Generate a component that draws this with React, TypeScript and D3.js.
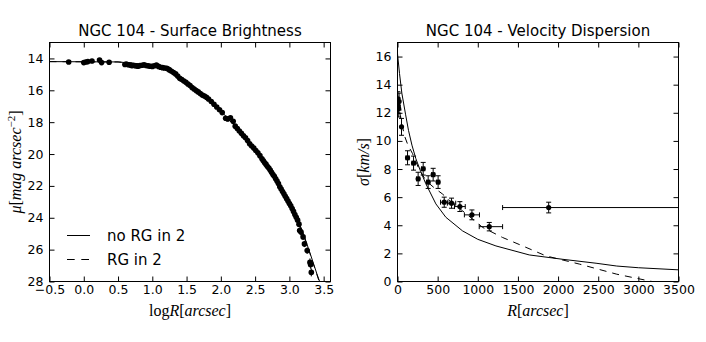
import React from 'react'
import { axisBottom, axisLeft, axisTop, axisRight, scaleLinear, select, line, format, range } from 'd3'

// surface brightness profile
const sbLogR = [
  -0.22, 0.0, 0.03, 0.06, 0.12, 0.23, 0.26, 0.37,
  0.6, 0.62, 0.65, 0.68, 0.7, 0.73, 0.76, 0.79, 0.82, 0.85, 0.88, 0.91, 0.94, 0.97,
  1.0, 1.03, 1.06, 1.09, 1.12, 1.15, 1.18, 1.21, 1.23, 1.25, 1.28, 1.31, 1.34, 1.37,
  1.4, 1.43, 1.46, 1.49, 1.52, 1.55, 1.58, 1.61, 1.64, 1.67, 1.7, 1.73, 1.76, 1.79,
  1.82, 1.86, 1.9, 1.94, 1.98, 2.02, 2.07, 2.1, 2.14, 2.18, 2.21, 2.24, 2.27, 2.3,
  2.33, 2.36, 2.39, 2.42, 2.45, 2.48, 2.51, 2.54, 2.57, 2.6, 2.62, 2.64, 2.66, 2.68,
  2.7, 2.72, 2.74, 2.76, 2.78, 2.8, 2.82, 2.84, 2.86, 2.88, 2.9, 2.92, 2.94, 2.96,
  2.98, 3.0, 3.02, 3.04, 3.06, 3.08, 3.1, 3.12, 3.14, 3.15, 3.17, 3.2, 3.22, 3.26,
  3.3, 3.31, 3.32,
]
const sbMu = [
  14.22, 14.26, 14.22, 14.2, 14.16, 14.1, 14.26, 14.24,
  14.38, 14.35, 14.4, 14.42, 14.45, 14.44, 14.47, 14.49, 14.45, 14.43, 14.4, 14.44, 14.47, 14.49,
  14.5, 14.46, 14.42, 14.5, 14.55, 14.58, 14.6, 14.62, 14.66, 14.72, 14.8, 14.88, 14.97, 15.1,
  15.25, 15.32, 15.42, 15.5, 15.6, 15.7, 15.82, 15.92, 16.02, 16.1, 16.2, 16.3, 16.36, 16.44,
  16.55, 16.7, 16.88, 17.05, 17.22, 17.4, 17.75, 17.8, 17.72, 17.95, 18.25, 18.4, 18.55, 18.7,
  18.85, 18.98, 19.15, 19.35, 19.5, 19.62, 19.78, 19.92, 20.1, 20.3, 20.42, 20.55, 20.65, 20.78,
  20.88, 21.0, 21.15, 21.28, 21.4, 21.55, 21.7, 21.85, 22.05, 22.2, 22.35, 22.5, 22.65, 22.8,
  22.95, 23.1, 23.25, 23.42, 23.6, 23.8, 23.97, 24.15, 24.4, 24.8, 24.9, 25.2, 25.64, 26.06,
  26.8, 26.95, 27.43,
]
const sbErr = [
  0.05, 0.05, 0.05, 0.05, 0.05, 0.05, 0.05, 0.05,
  0.06, 0.06, 0.06, 0.06, 0.06, 0.06, 0.06, 0.06, 0.06, 0.06, 0.06, 0.06, 0.06, 0.06,
  0.08, 0.08, 0.08, 0.08, 0.08, 0.08, 0.08, 0.08, 0.08, 0.08, 0.08, 0.08, 0.08, 0.08,
  0.1, 0.1, 0.1, 0.1, 0.1, 0.1, 0.1, 0.1, 0.1, 0.1, 0.1, 0.1, 0.1, 0.1,
  0.1, 0.1, 0.1, 0.1, 0.1, 0.12, 0.15, 0.15, 0.12, 0.12, 0.12, 0.12, 0.12, 0.12,
  0.12, 0.12, 0.12, 0.15, 0.15, 0.15, 0.15, 0.15, 0.15, 0.15, 0.15, 0.15, 0.15, 0.15,
  0.2, 0.2, 0.2, 0.2, 0.2, 0.2, 0.2, 0.2, 0.2, 0.2, 0.2, 0.2, 0.2, 0.2,
  0.2, 0.2, 0.2, 0.2, 0.2, 0.2, 0.2, 0.2, 0.2, 0.2, 0.2, 0.2, 0.2, 0.2,
  0.25, 0.25, 0.25,
]
// model curves
const sbModelLogR = [-0.5, 0.5, 0.8, 1.0, 1.2, 1.4, 1.6, 1.8, 2.0, 2.2, 2.4, 2.6, 2.8, 3.0, 3.1, 3.2, 3.3, 3.4, 3.45]
const sbNoRgMu = [14.2, 14.22, 14.33, 14.45, 14.65, 15.2, 15.88, 16.5, 17.3, 18.2, 19.2, 20.25, 21.5, 23.0, 23.9, 24.95, 26.2, 27.5, 28.1]
const sbRgMu = [14.2, 14.22, 14.34, 14.47, 14.68, 15.24, 15.9, 16.52, 17.32, 18.22, 19.22, 20.28, 21.52, 23.02, 23.92, 24.98, 26.25, 27.55, 28.2]

// velocity dispersion
const vdR = [5, 10, 15, 20, 50, 125, 200, 257, 320, 382, 444, 506, 582, 673, 777, 927, 1143, 1883]
const vdSigma = [13.0, 12.5, 12.3, 12.8, 11.0, 8.8, 8.42, 7.3, 8.02, 7.07, 7.6, 7.07, 5.64, 5.57, 5.33, 4.74, 3.9, 5.26]
const vdSigmaErr = [0.5, 0.55, 0.6, 0.6, 0.6, 0.5, 0.5, 0.47, 0.45, 0.45, 0.45, 0.45, 0.36, 0.36, 0.35, 0.35, 0.3, 0.38]
const vdRLo = [5, 10, 15, 20, 50, 105, 180, 237, 300, 362, 424, 486, 536, 621, 710, 833, 1018, 1309]
const vdRHi = [5, 10, 15, 20, 50, 145, 220, 277, 340, 402, 464, 526, 628, 725, 844, 1021, 1309, 3700]
const vdNoRgR = [0, 25, 54, 100, 137, 180, 228, 290, 353, 478, 602, 810, 1000, 1226, 1641, 2057, 2473, 2731, 3000, 3500]
const vdNoRgSigma = [16.2, 14.8, 13.4, 11.9, 10.75, 9.7, 8.75, 7.8, 6.95, 5.52, 4.57, 3.6, 3.0, 2.53, 1.89, 1.58, 1.3, 1.1, 0.98, 0.83]
const vdRgR = [0, 50, 91, 130, 187, 260, 353, 450, 561, 680, 810, 1060, 1309, 1559, 1850, 2265, 2731, 3170, 3300]
const vdRgSigma = [13.0, 11.3, 10.3, 9.7, 9.1, 8.1, 7.18, 6.7, 6.22, 5.6, 5.03, 3.85, 3.13, 2.53, 1.82, 1.24, 0.52, 0.0, -0.2]

// ticks
const sbXTicks = range(-0.5, 3.51, 0.5)
const sbYTicks = [14, 16, 18, 20, 22, 24, 26, 28]
const vdXTicks = [0, 500, 1000, 1500, 2000, 2500, 3000, 3500]
const vdYTicks = [0, 2, 4, 6, 8, 10, 12, 14, 16]

const legendLabels = ['no RG in 2', 'RG in 2']

const sans = 'DejaVu Sans, sans-serif'
const serif = 'Liberation Serif, DejaVu Serif, serif'

const styleAxis = g => {
  g.select('.domain').remove()
  g.attr('font-family', sans).attr('font-size', 12.5)
  g.selectAll('line').attr('stroke', '#000')
  g.selectAll('text').attr('fill', '#000')
}

const Frame = ({ x, y, xTicks, yTicks, xFmt, yFmt }) => {
  const [l, r] = x.range()
  const top = Math.min(...y.range())
  const bot = Math.max(...y.range())
  const bottomRef = node => {
    if (!node) return
    select(node).call(axisBottom(x).tickValues(xTicks).tickFormat(xFmt).tickSizeInner(-5).tickSizeOuter(0).tickPadding(4)).call(styleAxis)
  }
  const topRef = node => {
    if (!node) return
    select(node).call(axisTop(x).tickValues(xTicks).tickFormat(() => '').tickSizeInner(-5).tickSizeOuter(0)).call(styleAxis)
  }
  const leftRef = node => {
    if (!node) return
    select(node).call(axisLeft(y).tickValues(yTicks).tickFormat(yFmt).tickSizeInner(-5).tickSizeOuter(0).tickPadding(6)).call(styleAxis)
  }
  const rightRef = node => {
    if (!node) return
    select(node).call(axisRight(y).tickValues(yTicks).tickFormat(() => '').tickSizeInner(-5).tickSizeOuter(0)).call(styleAxis)
  }
  return (
    <g>
      <g transform={`translate(0,${bot})`} ref={bottomRef} />
      <g transform={`translate(0,${top})`} ref={topRef} />
      <g transform={`translate(${l},0)`} ref={leftRef} />
      <g transform={`translate(${r},0)`} ref={rightRef} />
      <rect x={l} y={top} width={r - l} height={bot - top} fill="none" stroke="#000" strokeWidth={1} />
    </g>
  )
}

export default function App() {
  const sbX = scaleLinear().domain([-0.5, 3.6]).range([49.5, 330.5])
  const sbY = scaleLinear().domain([13, 28]).range([42.5, 281.5])
  const vdX = scaleLinear().domain([0, 3500]).range([397.5, 678.5])
  const vdY = scaleLinear().domain([0, 17]).range([281.5, 42.5])

  const sbLine = line().x(d => sbX(d[0])).y(d => sbY(d[1]))
  const vdLine = line().x(d => vdX(d[0])).y(d => vdY(d[1]))

  const cap = 2.5

  return (
    <svg width={706} height={342} style={{ position: 'absolute', left: 0, top: 0, background: '#fff' }}>
      <defs>
        <clipPath id="clipSb">
          <rect x={49.5} y={42.5} width={281} height={239} />
        </clipPath>
        <clipPath id="clipVd">
          <rect x={397.5} y={42.5} width={281} height={239} />
        </clipPath>
      </defs>

      {/* left: surface brightness */}
      <text x={190} y={36} textAnchor="middle" fontFamily={sans} fontSize={15}>NGC 104 - Surface Brightness</text>
      <g clipPath="url(#clipSb)">
        <path d={sbLine(sbModelLogR.map((v, i) => [v, sbRgMu[i]]))} fill="none" stroke="#000" strokeWidth={1} strokeDasharray="7,6" />
        <path d={sbLine(sbModelLogR.map((v, i) => [v, sbNoRgMu[i]]))} fill="none" stroke="#000" strokeWidth={1} />
        {sbLogR.map((v, i) => (
          <g key={i}>
            <line x1={sbX(v)} x2={sbX(v)} y1={sbY(sbMu[i] - sbErr[i])} y2={sbY(sbMu[i] + sbErr[i])} stroke="#000" />
            <circle cx={sbX(v)} cy={sbY(sbMu[i])} r={2.8} fill="#000" />
          </g>
        ))}
      </g>
      <Frame x={sbX} y={sbY} xTicks={sbXTicks} yTicks={sbYTicks} xFmt={format('.1f')} yFmt={format('d')} />
      <text x={190} y={316} textAnchor="middle" fontFamily={serif} fontSize={16}>
        <tspan>log</tspan><tspan fontStyle="italic">R</tspan><tspan>[</tspan><tspan fontStyle="italic">arcsec</tspan><tspan>]</tspan>
      </text>
      <text transform="translate(21,162) rotate(-90)" textAnchor="middle" fontFamily={serif} fontSize={16}>
        <tspan fontStyle="italic">μ</tspan><tspan>[</tspan><tspan fontStyle="italic">mag arcsec</tspan>
        <tspan dy={-6} fontSize={11}>−2</tspan><tspan dy={6}>]</tspan>
      </text>
      {/* legend */}
      <line x1={67} x2={90} y1={235.5} y2={235.5} stroke="#000" />
      <line x1={67} x2={90} y1={259.5} y2={259.5} stroke="#000" strokeDasharray="7.7,6.6" />
      <text x={107} y={241} fontFamily={sans} fontSize={15}>{legendLabels[0]}</text>
      <text x={107} y={265} fontFamily={sans} fontSize={15}>{legendLabels[1]}</text>

      {/* right: velocity dispersion */}
      <text x={538} y={36} textAnchor="middle" fontFamily={sans} fontSize={15}>NGC 104 - Velocity Dispersion</text>
      <g clipPath="url(#clipVd)">
        <path d={vdLine(vdRgR.map((v, i) => [v, vdRgSigma[i]]))} fill="none" stroke="#000" strokeWidth={1} strokeDasharray="7,6" />
        <path d={vdLine(vdNoRgR.map((v, i) => [v, vdNoRgSigma[i]]))} fill="none" stroke="#000" strokeWidth={1} />
        {vdR.map((v, i) => {
          const cx = vdX(v)
          const cy = vdY(vdSigma[i])
          const yLo = vdY(vdSigma[i] - vdSigmaErr[i])
          const yHi = vdY(vdSigma[i] + vdSigmaErr[i])
          const xLo = vdX(vdRLo[i])
          const xHi = vdX(vdRHi[i])
          return (
            <g key={i} stroke="#000" strokeWidth={1}>
              <line x1={cx} x2={cx} y1={yLo} y2={yHi} />
              <line x1={cx - cap} x2={cx + cap} y1={yLo} y2={yLo} />
              <line x1={cx - cap} x2={cx + cap} y1={yHi} y2={yHi} />
              {xHi - xLo > 1 && (
                <g>
                  <line x1={xLo} x2={xHi} y1={cy} y2={cy} />
                  <line x1={xLo} x2={xLo} y1={cy - cap} y2={cy + cap} />
                  <line x1={xHi} x2={xHi} y1={cy - cap} y2={cy + cap} />
                </g>
              )}
              <circle cx={cx} cy={cy} r={2.6} fill="#000" stroke="none" />
            </g>
          )
        })}
      </g>
      <Frame x={vdX} y={vdY} xTicks={vdXTicks} yTicks={vdYTicks} xFmt={format('d')} yFmt={format('d')} />
      <text x={538} y={316} textAnchor="middle" fontFamily={serif} fontSize={16}>
        <tspan fontStyle="italic">R</tspan><tspan>[</tspan><tspan fontStyle="italic">arcsec</tspan><tspan>]</tspan>
      </text>
      <text transform="translate(369,162) rotate(-90)" textAnchor="middle" fontFamily={serif} fontSize={16}>
        <tspan fontStyle="italic">σ</tspan><tspan>[</tspan><tspan fontStyle="italic">km/s</tspan><tspan>]</tspan>
      </text>
    </svg>
  )
}
